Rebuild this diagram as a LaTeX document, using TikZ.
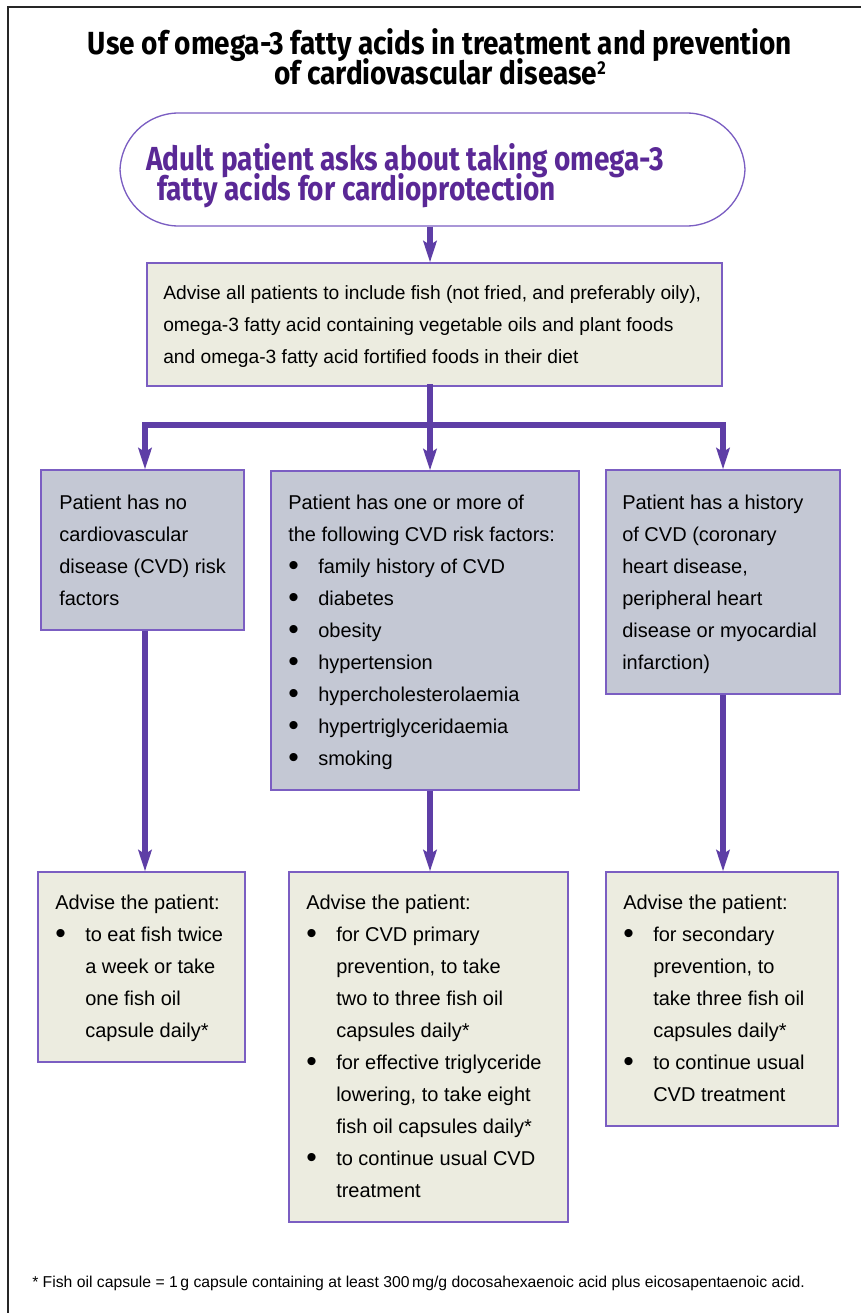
\documentclass[tikz,border=0pt]{standalone}
\usepackage{fontspec}
\setmainfont{Liberation Sans}
\newfontfamily\condfont[FakeStretch=0.84]{Fira Sans}
\newfontfamily\titlefont[FakeStretch=0.875]{Fira Sans}
\usetikzlibrary{arrows.meta,fit}
\setlength{\lineskiplimit}{-100pt}
\definecolor{arrowpurple}{HTML}{5E3EA6}
\definecolor{edgepurple}{HTML}{7B5EC2}
\definecolor{textpurple}{HTML}{5A2896}
\definecolor{beige}{HTML}{ECECE0}
\definecolor{greyblue}{HTML}{C4C8D4}
\newcommand{\bl}{\makebox[22.5pt][l]{\raisebox{-1.6pt}{\scalebox{1.5}{\textbullet}}}}
\newcommand{\ind}{\hspace*{22.5pt}}
\newcommand{\titlesup}[1]{\raisebox{7pt}{\fontsize{14}{14}\selectfont #1}}
\tikzset{
  beigebox/.style={draw=edgepurple, fill=beige, line width=1pt, inner sep=0pt},
  greybox/.style={draw=edgepurple, fill=greyblue, line width=1pt, inner sep=0pt},
  startbox/.style={draw=edgepurple, line width=1pt, inner sep=0pt, rounded corners=44pt},
  bodytxt/.style={anchor=north west, inner sep=0pt, align=left, font=\fontsize{15}{24}\selectfont},
  titletxt/.style={inner sep=0pt, align=center, font=\titlefont\bfseries\fontsize{24}{22.5}\selectfont},
  starttxt/.style={inner sep=0pt, align=left, text=textpurple, font=\condfont\bfseries\fontsize{25}{22.5}\selectfont},
  arr/.style={draw=arrowpurple, line width=4pt, -{Stealth[length=16pt, width=10pt, inset=3pt]}},
  bar/.style={draw=arrowpurple, line width=4pt, line cap=rect},
}
\begin{document}
\begin{tikzpicture}[x=0.75pt, y=-0.75pt]
\useasboundingbox (0,0) rectangle (861,1313);
% outer frame
\draw[line width=1.2pt, black!85] (8,1313) -- (8,7) -- (861,7);
% title
\node[titletxt, anchor=north] (title) at (440,28)
  {Use of omega-3 fatty acids in treatment and prevention\\of cardiovascular disease\titlesup{2}};
% start
\node[startbox, fit={(120,113) (745,226)}] (start) {};
\node[starttxt, anchor=north west] (startt) at (146,143)
  {Adult patient asks about taking omega-3\\\hspace*{8.25pt}fatty acids for cardioprotection};
% box 1
\node[beigebox, fit={(147,263) (722,386)}] (b1) {};
\node[bodytxt, font=\fontsize{14.4}{24}\selectfont] (b1t) at (163,285)
  {Advise all patients to include fish (not fried, and preferably oily),\\omega-3 fatty acid containing vegetable oils and plant foods\\and omega-3 fatty acid fortified foods in their diet};
% second row
\node[greybox, fit={(41,470) (244,630)}] (A) {};
\node[bodytxt] (At) at (59,495)
  {Patient has no\\cardiovascular\\disease (CVD) risk\\factors};
\node[greybox, fit={(271,471) (579,790)}] (B) {};
\node[bodytxt] (Bt) at (288,495)
  {Patient has one or more of\\the following CVD risk factors:\\\bl family history of CVD\\\bl diabetes\\\bl obesity\\\bl hypertension\\\bl hypercholesterolaemia\\\bl hypertriglyceridaemia\\\bl smoking};
\node[greybox, fit={(606,470) (840,694)}] (C) {};
\node[bodytxt] (Ct) at (622,495)
  {Patient has a history\\of CVD (coronary\\heart disease,\\peripheral heart\\disease or myocardial\\infarction)};
% third row
\node[beigebox, fit={(38,872) (245,1062)}] (D) {};
\node[bodytxt] (Dt) at (55,895)
  {Advise the patient:\\\bl to eat fish twice\\\ind a week or take\\\ind one fish oil\\\ind capsule daily*};
\node[beigebox, fit={(289,872) (568,1222)}] (E) {};
\node[bodytxt] (Et) at (306,895)
  {Advise the patient:\\\bl for CVD primary\\\ind prevention, to take\\\ind two to three fish oil\\\ind capsules daily*\\\bl for effective triglyceride\\\ind lowering, to take eight\\\ind fish oil capsules daily*\\\bl to continue usual CVD\\\ind treatment};
\node[beigebox, fit={(606,872) (838,1126)}] (F) {};
\node[bodytxt] (Ft) at (623,895)
  {Advise the patient:\\\bl for secondary\\\ind prevention, to\\\ind take three fish oil\\\ind capsules daily*\\\bl to continue usual\\\ind CVD treatment};
% connectors
\coordinate (jl) at (145,425);
\coordinate (jm) at (430,425);
\coordinate (jr) at (723,425);
\draw[arr] (start.south -| jm) -- (b1.north -| jm);
\draw[bar] (b1.south -| jm) -- (jm);
\draw[bar] (jl) -- (jr);
\draw[arr] (jl) -- (jl |- A.north);
\draw[arr] (jm) -- (jm |- B.north);
\draw[arr] (jr) -- (jr |- C.north);
\draw[arr] (jl |- A.south) -- (jl |- D.north);
\draw[arr] (jm |- B.south) -- (jm |- E.north);
\draw[arr] (jr |- C.south) -- (jr |- F.north);
% footnote
\node[anchor=base west, inner sep=0pt, font=\fontsize{11.8}{13}\selectfont] (note) at (32,1287)
  {* Fish oil capsule = 1\,g capsule containing at least 300\,mg/g docosahexaenoic acid plus eicosapentaenoic acid.};
\end{tikzpicture}
\end{document}
